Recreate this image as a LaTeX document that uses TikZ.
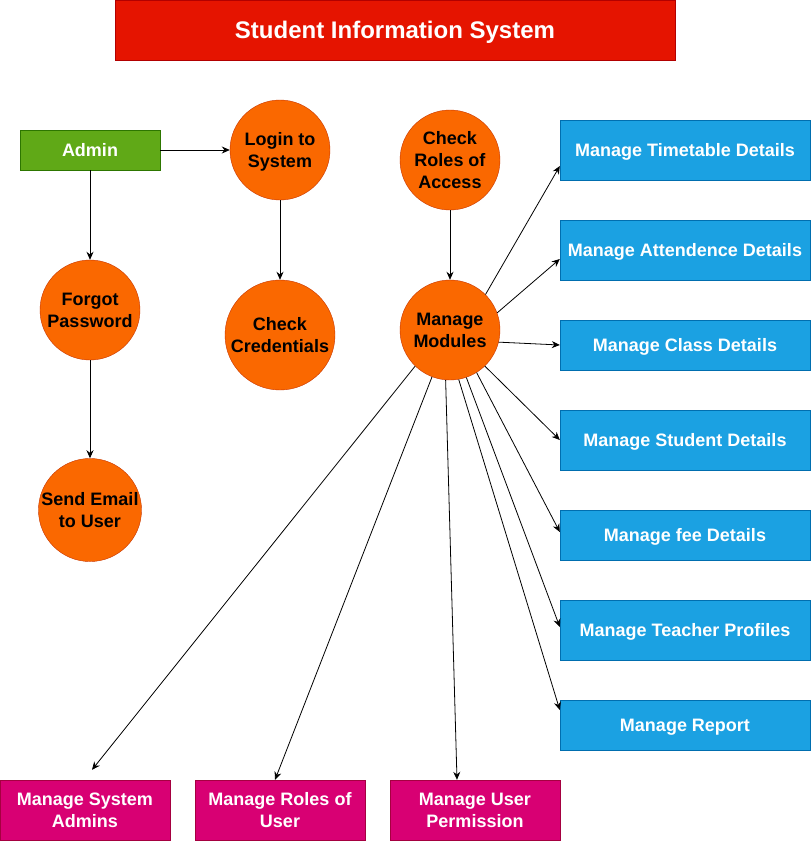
\documentclass[tikz,border=0pt]{standalone}
\usepackage{fontspec}
\setmainfont{Liberation Sans}
\usetikzlibrary{positioning,arrows.meta}

\definecolor{titlefill}{HTML}{E51400}
\definecolor{titleline}{HTML}{B20000}
\definecolor{actorfill}{HTML}{60A917}
\definecolor{actorline}{HTML}{2D7600}
\definecolor{procfill}{HTML}{FA6800}
\definecolor{procline}{HTML}{C73500}
\definecolor{modfill}{HTML}{1BA1E2}
\definecolor{modline}{HTML}{006EAF}
\definecolor{accfill}{HTML}{D80073}
\definecolor{accline}{HTML}{A50040}

\begin{document}
\begin{tikzpicture}[x=1pt, y=-1pt, node distance=100pt,
  every text node part/.style={align=center},
  every node/.style={font=\fontsize{18}{22}\selectfont\bfseries, inner sep=0pt, text depth=0pt},
  actor/.style={draw=actorline, fill=actorfill, text=white, minimum width=140pt, minimum height=40pt},
  process/.style={circle, draw=procline, fill=procfill, minimum size=100pt},
  module/.style={draw=modline, fill=modfill, text=white, minimum width=250pt, minimum height=60pt},
  access/.style={draw=accline, fill=accfill, text=white, minimum width=170pt, minimum height=60pt},
  link/.style={-{Stealth[length=8pt,width=7pt]}, line width=0.8pt}]
\useasboundingbox (0,0) rectangle (811,847);

\node (title) [draw=titleline, fill=titlefill, text=white, minimum width=560pt, minimum height=60pt, font=\fontsize{24}{29}\selectfont\bfseries] at (395,30) {Student Information System};

% left side: admin and login
\node (admin) [actor] at (90,150) {Admin};
\node (login) [process, node distance=190pt, right of=admin] {Login to\\System};
\node (forgot) [process, node distance=160pt, below of=admin] {Forgot\\Password};
\node (send email) [process, node distance=200pt, below of=forgot] {Send Email\\to User};
\node (credentials) [process, minimum size=110pt, node distance=185pt, below of=login] {Check\\Credentials};

\node (roles) [process] at (450,160) {Check\\Roles of\\Access};
\node (modules) [process, node distance=170pt, below of=roles] {Manage\\Modules};

% modules on the right
\node (timetable) [module] at (685,150) {Manage Timetable Details};
\node (attendence) [module, node distance=100pt, below of=timetable] {Manage Attendence Details};
\node (class) [module, minimum height=50pt, node distance=95pt, below of=attendence] {Manage Class Details};
\node (student) [module, node distance=95pt, below of=class] {Manage Student Details};
\node (fee) [module, minimum height=50pt, node distance=95pt, below of=student] {Manage fee Details};
\node (teacher) [module, node distance=95pt, below of=fee] {Manage Teacher Profiles};
\node (report) [module, minimum height=50pt, node distance=95pt, below of=teacher] {Manage Report};

% access control at the bottom
\node (system admins) [access] at (85,810) {Manage System\\Admins};
\node (user roles) [access, node distance=195pt, right of=system admins] {Manage Roles of\\User};
\node (user permission) [access, node distance=195pt, right of=user roles] {Manage User\\Permission};

\draw [link] (admin) -- (login);
\draw [link] (admin) -- (forgot);
\draw [link] (forgot) -- (send email);
\draw [link] (login) -- (credentials);
\draw [link] (roles) -- (modules);

\draw [link] (modules.45) -- ([yshift=-16pt]timetable.west);
\draw [link] (modules.20) -- ([yshift=-9pt]attendence.west);
\draw [link] (modules.-14) -- (class.west);
\draw [link] (modules.-46) -- (student.west);
\draw [link] (modules.-58) -- ([yshift=3pt]fee.west);
\draw [link] (modules.-71) -- ([yshift=3pt]teacher.west);
\draw [link] (modules.-80) -- ([yshift=15pt]report.west);

\draw [link] (modules.-95) -- ([xshift=-18pt]user permission.north);
\draw [link] (modules.-111) -- ([xshift=-5pt]user roles.north);
\draw [link] (modules.-134) -- ([xshift=7pt,yshift=10pt]system admins.north);

\end{tikzpicture}
\end{document}
